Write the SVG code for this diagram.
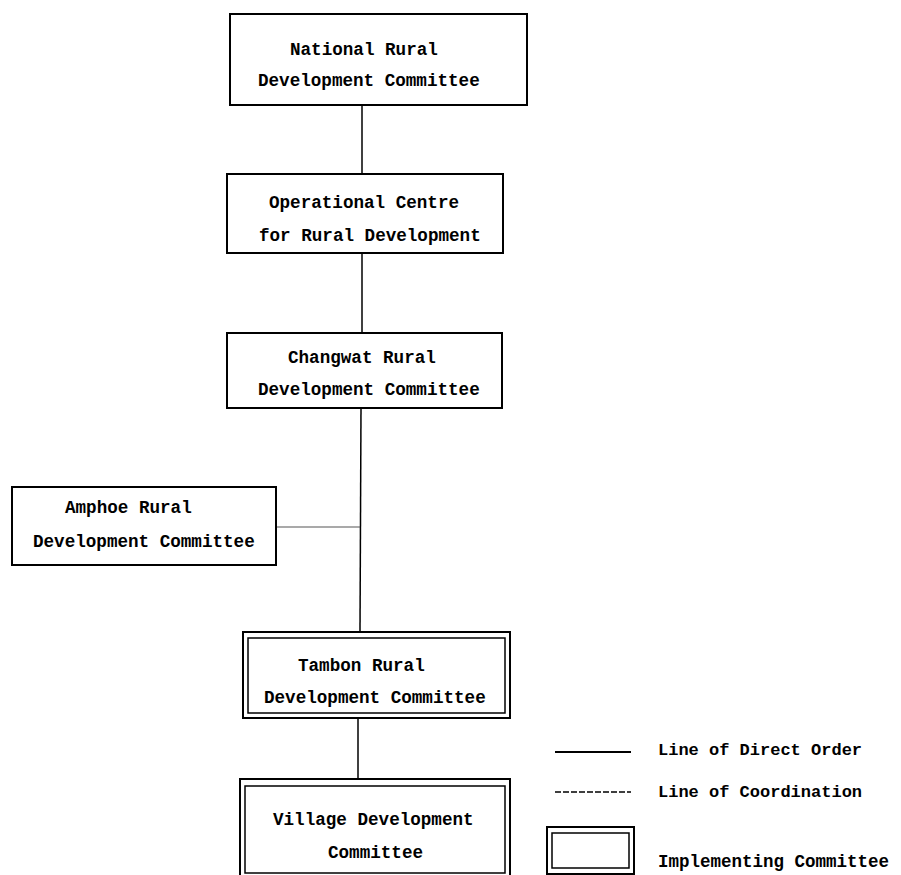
<svg xmlns="http://www.w3.org/2000/svg" width="901" height="875" viewBox="0 0 901 875">
<style>
.box{fill:#fff;stroke:#000;stroke-width:2}
.inner{fill:none;stroke:#000;stroke-width:1.5}
.t{font-family:"Liberation Mono","Courier New",monospace;font-size:17.6px;font-weight:bold;fill:#000}
.c{stroke:#000;stroke-width:1.5;fill:none}
</style>
<rect width="901" height="875" fill="#fff"/>
<g id="connectors">
<line class="c" x1="362" y1="105" x2="362" y2="174"/>
<line class="c" x1="362" y1="253" x2="362" y2="333"/>
<line class="c" x1="361" y1="408" x2="360" y2="632"/>
<line x1="276" y1="527" x2="360" y2="527" stroke="#555" stroke-width="1.2"/>
<line class="c" x1="358" y1="718" x2="358" y2="779"/>
</g>
<g id="national">
<rect class="box" x="230" y="14" width="297" height="91"/>
<text class="t" x="290" y="55">National Rural</text>
<text class="t" x="258" y="86">Development Committee</text>
</g>
<g id="operational">
<rect class="box" x="227" y="174" width="276" height="79"/>
<text class="t" x="269" y="208">Operational Centre</text>
<text class="t" x="259" y="241">for Rural Development</text>
</g>
<g id="changwat">
<rect class="box" x="227" y="333" width="275" height="75"/>
<text class="t" x="288" y="363">Changwat Rural</text>
<text class="t" x="258" y="395">Development Committee</text>
</g>
<g id="amphoe">
<rect class="box" x="12" y="487" width="264" height="78"/>
<text class="t" x="65" y="513">Amphoe Rural</text>
<text class="t" x="33" y="547">Development Committee</text>
</g>
<g id="tambon">
<rect class="box" x="243" y="632" width="267" height="86"/>
<rect class="inner" x="248" y="638" width="257" height="75"/>
<text class="t" x="298" y="671">Tambon Rural</text>
<text class="t" x="264" y="703">Development Committee</text>
</g>
<g id="village">
<rect class="box" x="240" y="779" width="270" height="102"/>
<rect class="inner" x="245" y="786" width="260" height="87"/>
<text class="t" x="273" y="825">Village Development</text>
<text class="t" x="328" y="858">Committee</text>
</g>
<g id="legend">
<line x1="555" y1="752" x2="631" y2="752" stroke="#000" stroke-width="2"/>
<text class="t" x="658" y="755" style="font-size:17px">Line of Direct Order</text>
<line x1="555" y1="792" x2="631" y2="792" stroke="#000" stroke-width="1.5" stroke-dasharray="6,2"/>
<text class="t" x="658" y="797" style="font-size:17px">Line of Coordination</text>
<rect class="box" x="547" y="827" width="87" height="47"/>
<rect class="inner" x="552" y="833" width="77" height="35"/>
<text class="t" x="658" y="867" style="font-size:17.5px">Implementing Committee</text>
</g>
</svg>
